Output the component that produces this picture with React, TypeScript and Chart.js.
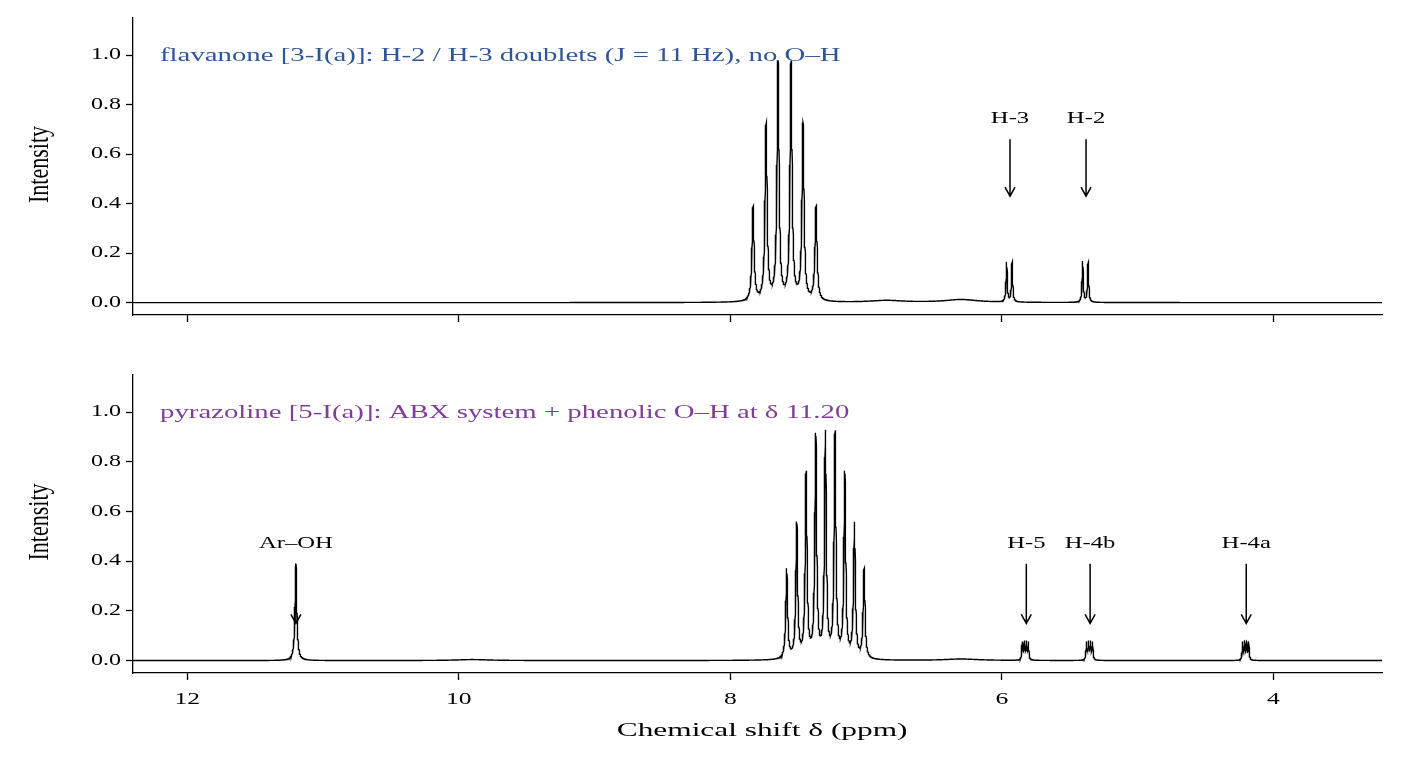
import React, { useEffect, useRef } from "react";
import { Chart, registerables } from "chart.js";
Chart.register(...registerables);

// Peak lists: [ppm, height, half-width]
const topPeaks: number[][] = [
  [7.833, 0.38, 0.009], [7.737, 0.71, 0.009], [7.649, 0.96, 0.009], [7.553, 0.96, 0.009], [7.465, 0.71, 0.009], [7.369, 0.38, 0.009],
  [5.965, 0.16, 0.005], [5.925, 0.16, 0.005], [5.405, 0.165, 0.005], [5.365, 0.16, 0.005],
  [6.3, 0.012, 0.15], [6.85, 0.008, 0.15],
];
const bottomPeaks: number[][] = [
  [11.2, 0.38, 0.008],
  [7.585, 0.36, 0.008], [7.511, 0.54, 0.008], [7.442, 0.74, 0.008], [7.371, 0.89, 0.008], [7.3, 0.9, 0.008], [7.229, 0.9, 0.008], [7.157, 0.74, 0.008], [7.086, 0.54, 0.008], [7.015, 0.36, 0.008],
  [5.850, 0.07, 0.004], [5.835, 0.07, 0.004], [5.82, 0.07, 0.004], [5.805, 0.07, 0.004],
  [5.377, 0.07, 0.004], [5.362, 0.07, 0.004], [5.347, 0.07, 0.004], [5.332, 0.07, 0.004],
  [4.227, 0.07, 0.004], [4.212, 0.07, 0.004], [4.197, 0.07, 0.004], [4.182, 0.07, 0.004],
  [9.9, 0.004, 0.15], [6.3, 0.006, 0.15],
];
const yTicks = [0, 0.2, 0.4, 0.6, 0.8, 1.0];
const xTicks = [4, 6, 8, 10, 12];
const topNotes = [
  { x: 5.94, label: "H-3", yText: 0.745, yTail: 0.66, yHead: 0.43 },
  { x: 5.38, label: "H-2", yText: 0.745, yTail: 0.66, yHead: 0.43 },
];
const bottomNotes = [
  { x: 11.2, label: "Ar–OH", yText: 0.47, yTail: 0.39, yHead: 0.15 },
  { x: 5.82, label: "H-5", yText: 0.47, yTail: 0.39, yHead: 0.15 },
  { x: 5.35, label: "H-4b", yText: 0.47, yTail: 0.39, yHead: 0.15 },
  { x: 4.2, label: "H-4a", yText: 0.47, yTail: 0.39, yHead: 0.15 },
];
const topTitle = "flavanone [3-I(a)]: H-2 / H-3 doublets (J = 11 Hz), no O–H";
const bottomTitle = "pyrazoline [5-I(a)]: ABX system + phenolic O–H at δ 11.20";
const xTitle = "Chemical shift δ (ppm)";
const yTitle = "Intensity";

function spectrum(peaks: number[][]) {
  const pts: { x: number; y: number }[] = [];
  for (let i = 0; i <= 9200; i++) {
    const x = 3.2 + i * 0.001;
    let y = 0;
    peaks.forEach((p) => {
      const d = (x - p[0]) / p[2];
      y += p[1] / (1 + d * d);
    });
    pts.push({ x, y });
  }
  return pts;
}

const serif = "'Liberation Serif', 'DejaVu Serif', serif";

function txt(ctx: any, s: string, x: number, y: number, align: string, size: number, sx: number, color: string) {
  ctx.save();
  ctx.translate(x, y);
  ctx.scale(sx, 1);
  ctx.font = `${size}px ${serif}`;
  ctx.fillStyle = color;
  ctx.textAlign = align;
  ctx.textBaseline = "middle";
  ctx.fillText(s, 0, 0);
  ctx.restore();
}

function makeChart(canvas: HTMLCanvasElement, peaks: number[][], notes: any[], title: string, titleColor: string, bottom: boolean) {
  const plugin = {
    id: "notes",
    afterDraw(chart: any) {
      const ctx = chart.ctx;
      const xs = chart.scales.x, ys = chart.scales.y;
      const ca = chart.chartArea;
      txt(ctx, title, ca.left + 27, ca.top + 38, "left", 18, 1.6, titleColor);
      yTicks.forEach((v) => txt(ctx, v.toFixed(1), ca.left - 12, ys.getPixelForValue(v), "right", 16, 1.5, "#000"));
      if (bottom) {
        xTicks.forEach((v) => txt(ctx, String(v), xs.getPixelForValue(v), ca.bottom + 27, "center", 16, 1.6, "#000"));
        txt(ctx, xTitle, (xs.getPixelForValue(8) + xs.getPixelForValue(7.9)) / 2 + 25, ca.bottom + 58, "center", 19, 1.65, "#000");
      }
      ctx.save();
      ctx.translate(40, (ca.top + ca.bottom) / 2 - 2);
      ctx.rotate(-Math.PI / 2);
      ctx.scale(1, 1.35);
      ctx.font = `22px ${serif}`;
      ctx.fillStyle = "#000";
      ctx.textAlign = "center";
      ctx.textBaseline = "middle";
      ctx.fillText(yTitle, 0, 0);
      ctx.restore();
      ctx.save();
      ctx.strokeStyle = "#000";
      ctx.lineWidth = 1.5;
      notes.forEach((n) => {
        const px = xs.getPixelForValue(n.x);
        txt(ctx, n.label, px, ys.getPixelForValue(n.yText), "center", 17, 1.45, "#000");
        const y1 = ys.getPixelForValue(n.yTail), y2 = ys.getPixelForValue(n.yHead);
        ctx.beginPath();
        ctx.moveTo(px, y1); ctx.lineTo(px, y2);
        ctx.moveTo(px - 5, y2 - 9); ctx.lineTo(px, y2); ctx.lineTo(px + 5, y2 - 9);
        ctx.stroke();
      });
      ctx.restore();
    },
  };
  return new Chart(canvas, {
    type: "line",
    data: { datasets: [{ data: spectrum(peaks), borderColor: "#000", borderWidth: 1.4, pointRadius: 0, fill: false, tension: 0 }] },
    plugins: [plugin],
    options: {
      animation: false,
      responsive: false,
      parsing: false,
      normalized: true,
      layout: { padding: { left: 0, right: 25, top: bottom ? 35 : 18, bottom: 0 } },
      plugins: { legend: { display: false }, tooltip: { enabled: false } },
      scales: {
        x: {
          type: "linear", reverse: true, min: 3.2, max: 12.4,
          afterBuildTicks: (s: any) => { s.ticks = xTicks.map((v) => ({ value: v })); },
          afterFit: (s: any) => { s.height = bottom ? 89 : 25; },
          grid: { drawOnChartArea: false, tickLength: 7, color: "#000", tickWidth: 1.3 },
          border: { color: "#000", width: 1.3 },
          ticks: { display: false },
        },
        y: {
          min: -0.05, max: 1.15,
          afterBuildTicks: (s: any) => { s.ticks = yTicks.map((v) => ({ value: v })); },
          afterFit: (s: any) => { s.width = 133; },
          grid: { drawOnChartArea: false, tickLength: 7, color: "#000", tickWidth: 1.3 },
          border: { color: "#000", width: 1.3 },
          ticks: { display: false },
        },
      },
    } as any,
  });
}

export default function App() {
  const a = useRef<HTMLCanvasElement>(null);
  const b = useRef<HTMLCanvasElement>(null);
  useEffect(() => {
    const c1 = makeChart(a.current!, topPeaks, topNotes, topTitle, "#2f5597", false);
    const c2 = makeChart(b.current!, bottomPeaks, bottomNotes, bottomTitle, "#7e3f98", true);
    return () => { c1.destroy(); c2.destroy(); };
  }, []);
  return (
    <div style={{ position: "fixed", left: 0, top: 0, width: 1407, height: 762, background: "#fff" }}>
      <canvas ref={a} width={1407} height={340} style={{ position: "absolute", left: 0, top: 0 }} />
      <canvas ref={b} width={1407} height={422} style={{ position: "absolute", left: 0, top: 340 }} />
    </div>
  );
}
